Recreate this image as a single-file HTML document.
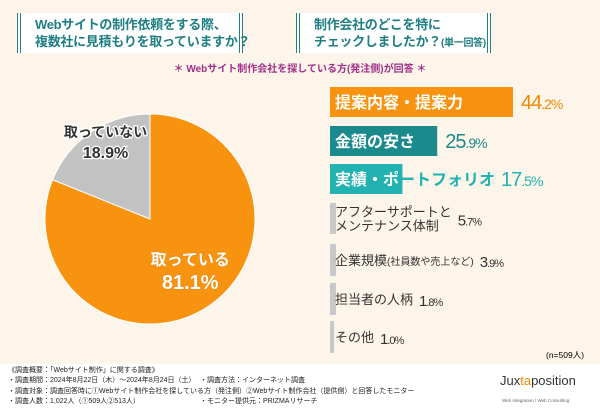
<!DOCTYPE html>
<html><head><meta charset="utf-8"><style>
body{margin:0;width:600px;height:415px;overflow:hidden;background:#fdf5ea;font-family:"Liberation Sans","Noto Sans CJK JP",sans-serif;position:relative}
.box{position:absolute;top:13px;height:40px;background:#fff;border-left:4px double #1f7f82;border-right:4px double #1f7f82;color:#1f7f82;font-weight:bold;font-size:13px;line-height:17px;box-sizing:border-box;padding:3px 0 0 12px;white-space:nowrap;letter-spacing:-0.3px}
.sub{position:absolute;top:60px;left:0;width:600px;text-align:center;color:#a0308a;font-size:10px;font-weight:bold}
.foot{position:absolute;top:364px;left:0;width:600px;height:51px;background:#fff;font-size:7px;line-height:10.3px;color:#222;white-space:nowrap}
</style></head><body>
<div class="box" style="left:17px;width:226px;padding-left:14px">Webサイトの制作依頼をする際、<br>複数社に見積もりを取っていますか？</div>
<div class="box" style="left:296px;width:195px;padding-left:14px">制作会社のどこを特に<br>チェックしましたか？<span style="font-size:10px">(単一回答)</span></div>
<div class="sub">＊ Webサイト制作会社を探している方(発注側)が回答 ＊</div>
<svg id="chart" width="600" height="415" style="position:absolute;left:0;top:0"></svg>
<div style="position:absolute;left:546px;top:349px;font-size:8.5px">(n=509人)</div>
<div class="foot">
<div style="position:absolute;left:8px;top:2px">《調査概要：「Webサイト制作」に関する調査》<br>・調査期間：2024年8月22日（木）〜2024年8月24日（土）<br>・調査対象：調査回答時に①Webサイト制作会社を探している方（発注側）②Webサイト制作会社（提供側）と回答したモニター<br>・調査人数：1,022人（①509人②513人）</div>
<div style="position:absolute;left:200px;top:12.3px">・調査方法：インターネット調査</div>
<div style="position:absolute;left:200px;top:32.9px">・モニター提供元：PRIZMAリサーチ</div>
<div style="position:absolute;left:500px;top:12px;font-size:13px;color:#333">Jux<span style="color:#f08a00">ta</span>position</div>
<div style="position:absolute;left:502px;top:32px;font-size:4.5px;color:#666">Web Integration / Web Consulting</div>
</div>
<script>
const pieLabels=["取っている","取っていない"];
const pieValues=[81.1,18.9];
const cats=["提案内容・提案力","金額の安さ","実績・ポートフォリオ","アフターサポートと|メンテナンス体制","企業規模(社員数や売上など)","担当者の人柄","その他"];
const vals=[44.2,25.9,17.5,5.7,3.9,1.8,1.0];
const NS="http://www.w3.org/2000/svg";
const svg=document.getElementById('chart');
function mk(t,a,p){const e=document.createElementNS(NS,t);for(const k in a)e.setAttribute(k,a[k]);(p||svg).appendChild(e);return e;}
const cx=150,cy=219,r=105;
const pieCols=["#f7930f","#c2c2c2"];
let tot=pieValues.reduce((a,b)=>a+b,0);
let start=0;
pieValues.forEach((v,i)=>{
 const a0=start/tot*2*Math.PI,a1=(start+v)/tot*2*Math.PI;start+=v;
 const x0=cx+r*Math.sin(a0),y0=cy-r*Math.cos(a0),x1=cx+r*Math.sin(a1),y1=cy-r*Math.cos(a1);
 const p=mk('path',{d:`M${cx},${cy}L${x0},${y0}A${r},${r} 0 ${a1-a0>Math.PI?1:0} 1 ${x1},${y1}Z`,fill:pieCols[i],stroke:"#fff","stroke-width":1});
 
 
 const am=(a0+a1)/2, lr=i==0?r*0.6:r*0.62;
 const lx=cx+lr*Math.sin(am)+(i==0?5:-8), ly=cy-lr*Math.cos(am)+(i==0?-6:-28);
 const fill=i==0?"#fff":"#333",stroke=i==0?"#e07a00":"#fff";
 const t1=mk('text',{x:lx,y:ly,"text-anchor":"middle","font-size":i==0?16:14,"font-weight":"bold",fill:fill,stroke:stroke,"stroke-width":i==0?0.6:2.5,"paint-order":"stroke"});t1.textContent=pieLabels[i];
 
 
 const t2=mk('text',{x:lx,y:ly+(i==0?24:21),"text-anchor":"middle","font-size":i==0?20:16,"font-weight":"bold",fill:fill,stroke:stroke,"stroke-width":i==0?0.6:2.5,"paint-order":"stroke"});t2.textContent=pieValues[i].toFixed(1)+"%";
 
 
});
const x0=330,scale=183/44.2,rowY=[87,126,164,203,244,283,321],hts=[30,30,30,31,32,32,32];
const barCols=["#f7930f","#1a8a8c","#22b2b2","#c8c8c8","#c8c8c8","#c8c8c8","#c8c8c8"];
const valCols=["#f08a00","#1a8a8c","#22b2b2","#333","#333","#333","#333"];
vals.forEach((v,i)=>{
 const y=rowY[i],h=hts[i],w=v*scale;
 const b=mk('rect',{x:x0,y:y,width:i<3?w:Math.min(w,6),height:h,fill:barCols[i]});
 
 
 const lines=cats[i].split('|');
 let tx=x0+5,tend;
 const big=i<3;
 const fs=big?16:13;
 const lab=mk('text',{x:tx,y:y+h/2+(lines.length>1?-2:fs*0.38),"font-size":fs,"font-weight":big?"bold":"normal",fill:big&&i<2?"#fff":(i==2?"#22b2b2":"#333")});
 
 
 if(i==2){lab.innerHTML='<tspan fill="#fff">実績・ポ</tspan>ートフォリオ';}
 else if(i==4){lab.innerHTML='企業規模<tspan font-size="10">(社員数や売上など)</tspan>';}
 else if(lines.length>1){lab.innerHTML=`<tspan x="${tx}" dy="0">${lines[0]}</tspan><tspan x="${tx}" dy="14">${lines[1]}</tspan>`;}
 else lab.textContent=lines[0];
 const bb=lab.getBBox();tend=bb.x+bb.width;
 const vx=Math.max(tend+6,x0+w+8);
 const vt=mk('text',{x:vx,y:y+h/2+7,"font-size":big?20:15,fill:valCols[i],"letter-spacing":"-1"});
 vt.innerHTML=v.toFixed(1).replace(/\.(\d)/,'<tspan font-size="'+(big?14:11)+'">.$1%</tspan>');
 
 
});
</script>
</body></html>
